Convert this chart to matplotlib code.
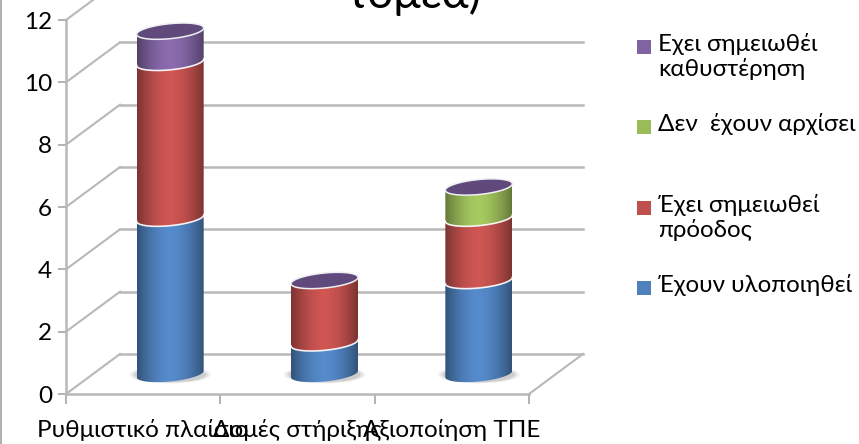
import numpy as np
import matplotlib
matplotlib.use("Agg")
import matplotlib.pyplot as plt
from matplotlib.patches import Polygon, Rectangle, Ellipse
from matplotlib.colors import to_rgb

plt.rcParams['font.family'] = ['Lato', 'Open Sans', 'DejaVu Sans']

categories = ["Ρυθμιστικό πλαίσιο", "Δομές στήριξης", "Αξιοποίηση ΤΠΕ"]
implemented = [5, 1, 3]
progress = [5, 2, 2]
not_started = [0, 0, 1]
delayed = [1, 0, 0]
series_values = [implemented, progress, not_started, delayed]
series_colors = ["#4F81BD", "#C0504D", "#9BBB59", "#8064A2"]
top_colors = ["#3B618E", "#90403A", "#748C43", "#604A7B"]
legend_labels = ["Έχουν υλοποιηθεί", "Έχει σημειωθεί\nπρόοδος", "Δεν  έχουν αρχίσει", "Εχει σημειωθέι\nκαθυστέρηση"]
yticks = [0, 2, 4, 6, 8, 10, 12]

W, H = 859, 444
fig = plt.figure(figsize=(W / 100, H / 100), dpi=100)
ax = fig.add_axes([66 / W, 1 - 394 / H, (529 - 66) / W, (394 - 20) / H])
ax.set_xlim(-0.5, 2.5)
ax.set_ylim(0, 12)

PX = 463 / 3          # pixels per category
PY = 374 / 12         # pixels per value
DX, DY = 54 / PX, 40 / PY
GRID = "#B8B8B8"

# back wall and floor
for v in yticks:
    if v < 12:
        ax.plot([-0.5 + DX, 2.5 + DX], [v + DY, v + DY], color=GRID, lw=1.8, clip_on=False, zorder=1)
    ax.plot([-0.5, -0.5 + DX], [v, v + DY], color=GRID, lw=1.5, clip_on=False, zorder=1)
ax.plot([2.5, 2.5 + DX], [0, DY], color=GRID, lw=1.5, clip_on=False, zorder=1)

ax.set_yticks(yticks)
ax.set_xticks(range(len(categories)))
ax.set_xticklabels(categories)
ax.set_xticks([-0.5, 0.5, 1.5, 2.5], minor=True)
ax.tick_params(axis='x', which='major', length=0, labelsize=17.5, pad=18, colors='black')
ax.tick_params(axis='x', which='minor', length=7, width=1.2, color="#A6A6A6")
ax.tick_params(axis='y', length=6, width=1.2, color="#A6A6A6", labelsize=17.5, pad=4, labelcolor='black')
for s in ('top', 'right'):
    ax.spines[s].set_visible(False)
for s in ('left', 'bottom'):
    ax.spines[s].set_color(GRID)
    ax.spines[s].set_linewidth(1.8)

# cylinders
bw = 67 / PX
rx = bw / 2
ry = 7.5 / PY
tilt = 3.2 / PY
t = np.linspace(0, 2 * np.pi, 121)
tf = np.linspace(np.pi, 2 * np.pi, 61)   # front arc, left to right
shade = 0.64 + 0.44 * np.clip(1 - np.abs(np.linspace(-1, 1, 256)) ** 1.7, 0, 1)


def rim(cx, cy, tt):
    return cx + rx * np.cos(tt), cy + ry * np.sin(tt) + tilt * np.cos(tt)


for i in range(len(categories)):
    cx = i + DX / 2
    y0 = DY / 2
    # soft base shadow
    for k, a in zip((1.22, 1.14, 1.07), (0.10, 0.15, 0.2)):
        ax.add_patch(Ellipse((cx, y0 - 0.02), bw * k, ry * 1.9 * k, color="#808080", alpha=a, lw=0, zorder=2))
    base = 0
    for vals, col, tc in zip(series_values, series_colors, top_colors):
        v = vals[i]
        b = y0 + base
        e = y0 + base + v
        if v > 0:
            xb, yb = rim(cx, b, tf)
            xt, yt = rim(cx, e, tf[::-1])
            poly = Polygon(np.c_[np.r_[xb, xt], np.r_[yb, yt]], closed=True, fc='none', ec='none', zorder=3)
            ax.add_patch(poly)
            rgb = np.clip(np.outer(shade, to_rgb(col)), 0, 1)[None, :, :]
            im = ax.imshow(rgb, extent=[cx - rx, cx + rx, b - ry - tilt, e + ry + tilt], aspect='auto',
                           interpolation='bilinear', zorder=3 + base * 0.01)
            im.set_clip_path(poly)
            im.set_clip_on(True)
            xr, yr = rim(cx, b, tf)
            if base > 0:
                ax.plot(xr, yr, color='white', lw=1.2, alpha=.9, zorder=4, clip_on=False)
        base += v
    # the top face takes the colour of the last series, even at height zero
    xr, yr = rim(cx, y0 + base, t)
    ax.add_patch(Polygon(np.c_[xr, yr], closed=True, fc=top_colors[-1], ec='#EFEFF3', lw=1.1, zorder=5, clip_on=False))

ax.set_xlim(-0.5, 2.5)
ax.set_ylim(0, 12)

# legend
lx, sw = 637 / W, 14
entries = list(zip(legend_labels, series_colors, [288, 208, 127, 47]))
for lab, col, y in entries:
    fig.add_artist(Rectangle((lx, 1 - (y + 7) / H), sw / W, 14 / H, transform=fig.transFigure, fc=col, ec='none'))
    fig.text(658 / W, 1 - (y - 14) / H, lab, fontsize=17.4, va='top', ha='left', linespacing=1.18, color='black')

# cropped title and frame edge
fig.text(346 / W, 1 - 8 / H, "τομέα)", fontsize=33, ha='left', va='baseline', color='black')
fig.add_artist(Rectangle((0, 0), 2 / W, 1, transform=fig.transFigure, fc="#B0B0B0", ec='none'))

fig.savefig("out.png", dpi=100)
